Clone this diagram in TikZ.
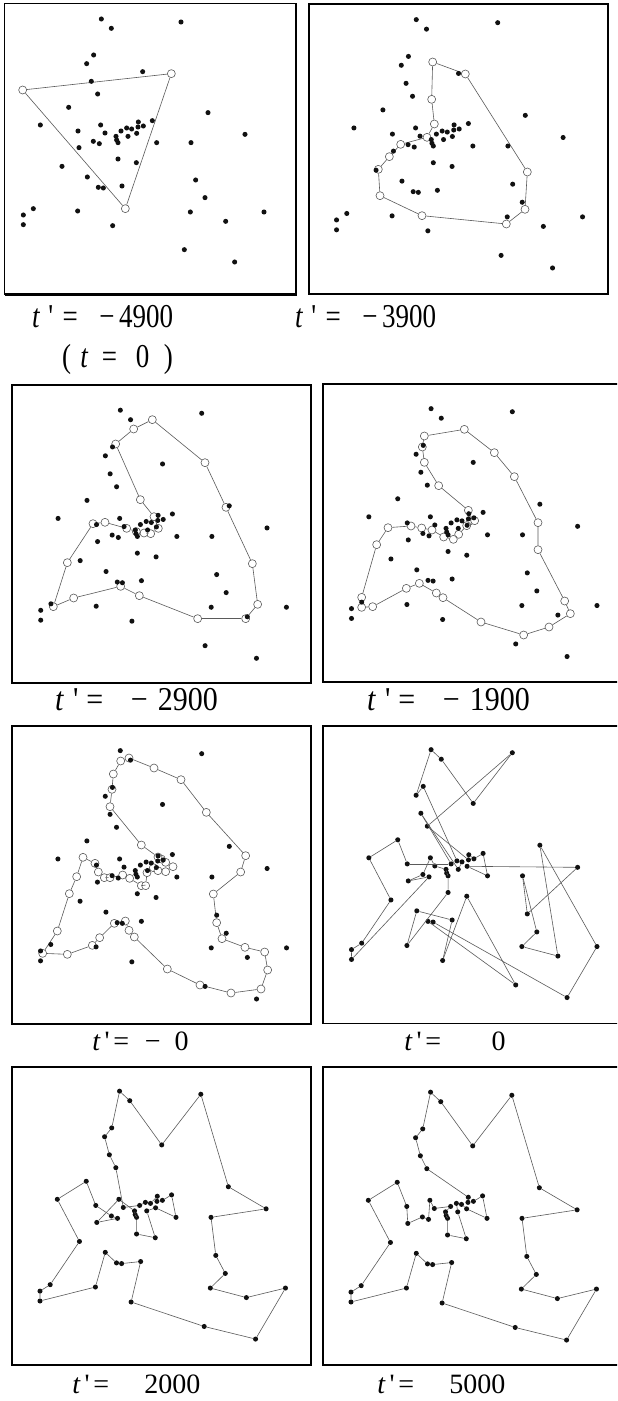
\documentclass[tikz,border=0pt]{standalone}
\usepackage{fontspec}
\setmainfont{Liberation Serif}
\usepackage{xcolor}
\definecolor{wire}{HTML}{5A5A5A}
\definecolor{ink}{HTML}{111111}

% city positions (same instance in every panel)
\newcommand{\cityxy}{304/57, 334/85, 543/66, 281/165, 260/191, 428/215, 274/244,
  293/282, 206/322, 624/338, 121/375, 302/375, 234/393, 315/399, 363/393,
  380/384, 395/387, 415/366, 430/378, 457/362, 414/381, 410/400, 384/409,
  348/409, 350/420, 354/428, 280/424, 298/431, 470/428, 573/428, 735/403,
  237/443, 354/477, 409/488, 186/499, 262/531, 587/540, 366/558, 295/562,
  310/564, 615/593, 100/626, 70/645, 70/674, 233/633, 571/636, 792/636,
  677/664, 338/677, 553/749, 704/786}
\newcommand{\placecities}{\foreach [count=\i] \x/\y in \cityxy {\node[city] (c\i) at (\x,\y) {};}}
\newcommand{\elastic}[1]{%
  \foreach [count=\i] \x/\y in {#1} {\node[knot] (r\i) at (\x,\y) {}; \xdef\nknots{\i}}%
  \foreach \i [remember=\i as \j (initially \nknots)] in {1,...,\nknots} {\draw[tour] (r\j) -- (r\i);}}
\newcommand{\tp}[2]{\textit{t}\hspace{#1}\textquotesingle\hspace{#2}=}

\begin{document}
\begin{tikzpicture}[x=0.75pt, y=-0.75pt,
  city/.style={circle, fill=ink, inner sep=0pt, minimum size=3.8pt},
  knot/.style={circle, draw=wire, fill=white, line width=0.45pt, inner sep=0pt, minimum size=6pt},
  tour/.style={draw=wire, line width=0.45pt},
  frame/.style={draw=black, line width=1.2pt},
  caption/.style={font=\fontsize{21}{23}\selectfont, inner sep=0pt, anchor=base west},
  captionbig/.style={caption, font=\fontsize{25}{27}\selectfont, transform shape}]
\useasboundingbox (0,0) rectangle (617,1401);
\fill[white] (0,0) rectangle (617,1401);
\begin{scope}
\clip (0,0) rectangle (617,1401);

% t' = -4900
\draw[frame, line width=0.9pt] (4.5,3.5) rectangle (296,294.5);
\draw[line width=1.6pt] (296,3.5) -- (296,294.5) -- (4.5,294.5);
\begin{scope}[scale=1/3]
  \elastic{68/270, 514/221, 376/626}
  \placecities
\end{scope}

% t' = -3900
\draw[frame, line width=0.9pt] (309,4) rectangle (608,294);
\begin{scope}[shift={(305,0)}, scale=1/3]
  \elastic{383/186, 481/222, 667/516, 660/628, 604/672, 351/647, 225/587,
    220/508, 253/470, 287/433, 366/412, 388/372, 380/298}
\end{scope}
\begin{scope}[shift={(312.7,0.2)}, scale=0.3407]
  \placecities
\end{scope}

% t' = -2900
\draw[frame] (12,385) rectangle (311,683);
\begin{scope}[shift={(0,375)}, scale=1/3]
  \elastic{457/134, 401/162, 347/207, 421/374, 462/425, 475/460, 452/476,
    432/474, 409/470, 380/460, 315/442, 279/446, 202/563, 160/695, 221/669,
    362/634, 418/662, 593/731, 737/731, 773/688, 757/566, 678/397, 615/263}
\end{scope}
\begin{scope}[shift={(16.9,390.8)}, scale=0.3403]
  \placecities
\end{scope}

% t' = -1900
\draw[frame] (323,384) rectangle (622,682);
\begin{scope}[shift={(312,375)}, scale=1/3]
  \elastic{457/163, 337/183, 331/216, 337/262, 380/332, 469/406, 476/437,
    488/437, 464/452, 440/478, 424/493, 395/486, 360/465, 329/459, 297/453,
    228/458, 194/509, 149/667, 149/697, 182/695, 283/640, 322/625, 373/654,
    393/668, 507/741, 635/780, 711/756, 775/716, 758/678, 678/524, 678/443,
    607/305, 547/233}
\end{scope}
\begin{scope}[shift={(327.7,389.3)}, scale=0.34]
  \placecities
\end{scope}

% t' = -0
\draw[frame] (12,726) rectangle (311,1024);
\begin{scope}[shift={(0,735)}, scale=1/3]
  \elastic{387/69, 462/99, 543/134, 619/232, 737/362, 722/411, 640/477,
    650/563, 666/611, 735/637, 794/651, 803/705, 783/762, 693/774, 600/750,
    502/702, 403/606, 387/586, 376/558, 343/565, 299/608, 277/631, 202/658,
    128/655, 172/588, 208/476, 230/425, 249/367, 285/385, 295/411, 313/428,
    330/428, 368/420, 389/430, 424/452, 437/452, 441/413, 460/398, 474/407,
    497/410, 519/395, 497/382, 484/372, 474/366, 424/330, 330/215, 336/163,
    340/117, 362/78}
\end{scope}
\begin{scope}[shift={(16.7,731.2)}, scale=0.3407]
  \placecities
\end{scope}

% t' = 0
\draw[frame] (323,726) rectangle (622,1023.5);
\begin{scope}[shift={(327.7,730.3)}, scale=0.34]
  \placecities
  \foreach \k [remember=\k as \l (initially 5)] in {1,2,6,3,8,21,18,19,20,29,
    22,31,37,30,41,46,48,10,47,51,40,39,50,34,49,38,36,45,33,26,25,24,14,12,
    27,32,28,44,43,42,35,11,9,13,15,7,23,17,16,4,5}
    \draw[tour] (c\l) -- (c\k);
\end{scope}

% t' = 2000
\draw[frame] (12,1067) rectangle (311,1365);
\begin{scope}[shift={(16.2,1071.8)}, scale=0.34]
  \placecities
  \foreach \k [remember=\k as \l (initially 4)] in {1,2,6,3,10,31,30,37,41,46,
    48,47,51,50,49,38,40,39,36,45,44,43,42,35,11,9,13,27,28,32,12,24,25,26,33,
    34,23,22,29,20,19,21,18,17,16,15,14,8,7,5,4}
    \draw[tour] (c\l) -- (c\k);
\end{scope}

% t' = 5000
\draw[frame] (323,1067) rectangle (622,1365);
\begin{scope}[shift={(327.2,1072.8)}, scale=0.34]
  \placecities
  \foreach \k [remember=\k as \l (initially 4)] in {1,2,6,3,10,31,30,37,41,46,
    48,47,51,50,49,38,40,39,36,45,44,43,42,35,11,9,13,32,27,28,12,14,15,24,25,
    26,33,34,23,16,17,22,29,20,19,21,18,8,7,5,4}
    \draw[tour] (c\l) -- (c\k);
\end{scope}
\end{scope}

% captions
\node[captionbig, xscale=0.81] (lab1) at (32,327)
  {\tp{0.3em}{0.35em}\hspace{0.8em}−\hspace{0.16em}4900};
\node[captionbig, xscale=0.81] (lab0) at (62,367)
  {(\hspace{0.34em}\textit{t}\hspace{0.5em}=\hspace{0.69em}0\hspace{0.54em})};
\node[captionbig, xscale=0.81] (lab2) at (295,327)
  {\tp{0.3em}{0.35em}\hspace{0.8em}−\hspace{0.16em}3900};
\node[captionbig, xscale=0.9] (lab3) at (55,710)
  {\tp{0.3em}{0.26em}\hspace{0.92em}−\hspace{0.34em}2900};
\node[captionbig, xscale=0.9] (lab4) at (367,710)
  {\tp{0.3em}{0.26em}\hspace{0.92em}−\hspace{0.34em}1900};
\node[caption] (lab5) at (92,1050) {\tp{0.14em}{0.14em}\hspace{0.56em}−\hspace{0.5em}0};
\node[caption] (lab6) at (404,1050) {\tp{0.14em}{0.14em}\hspace{1.8em}0};
\node[caption] (lab7) at (72,1393) {\tp{0.14em}{0.14em}\hspace{1.25em}2000};
\node[caption] (lab8) at (377,1393) {\tp{0.14em}{0.14em}\hspace{1.25em}5000};
\end{tikzpicture}
\end{document}
